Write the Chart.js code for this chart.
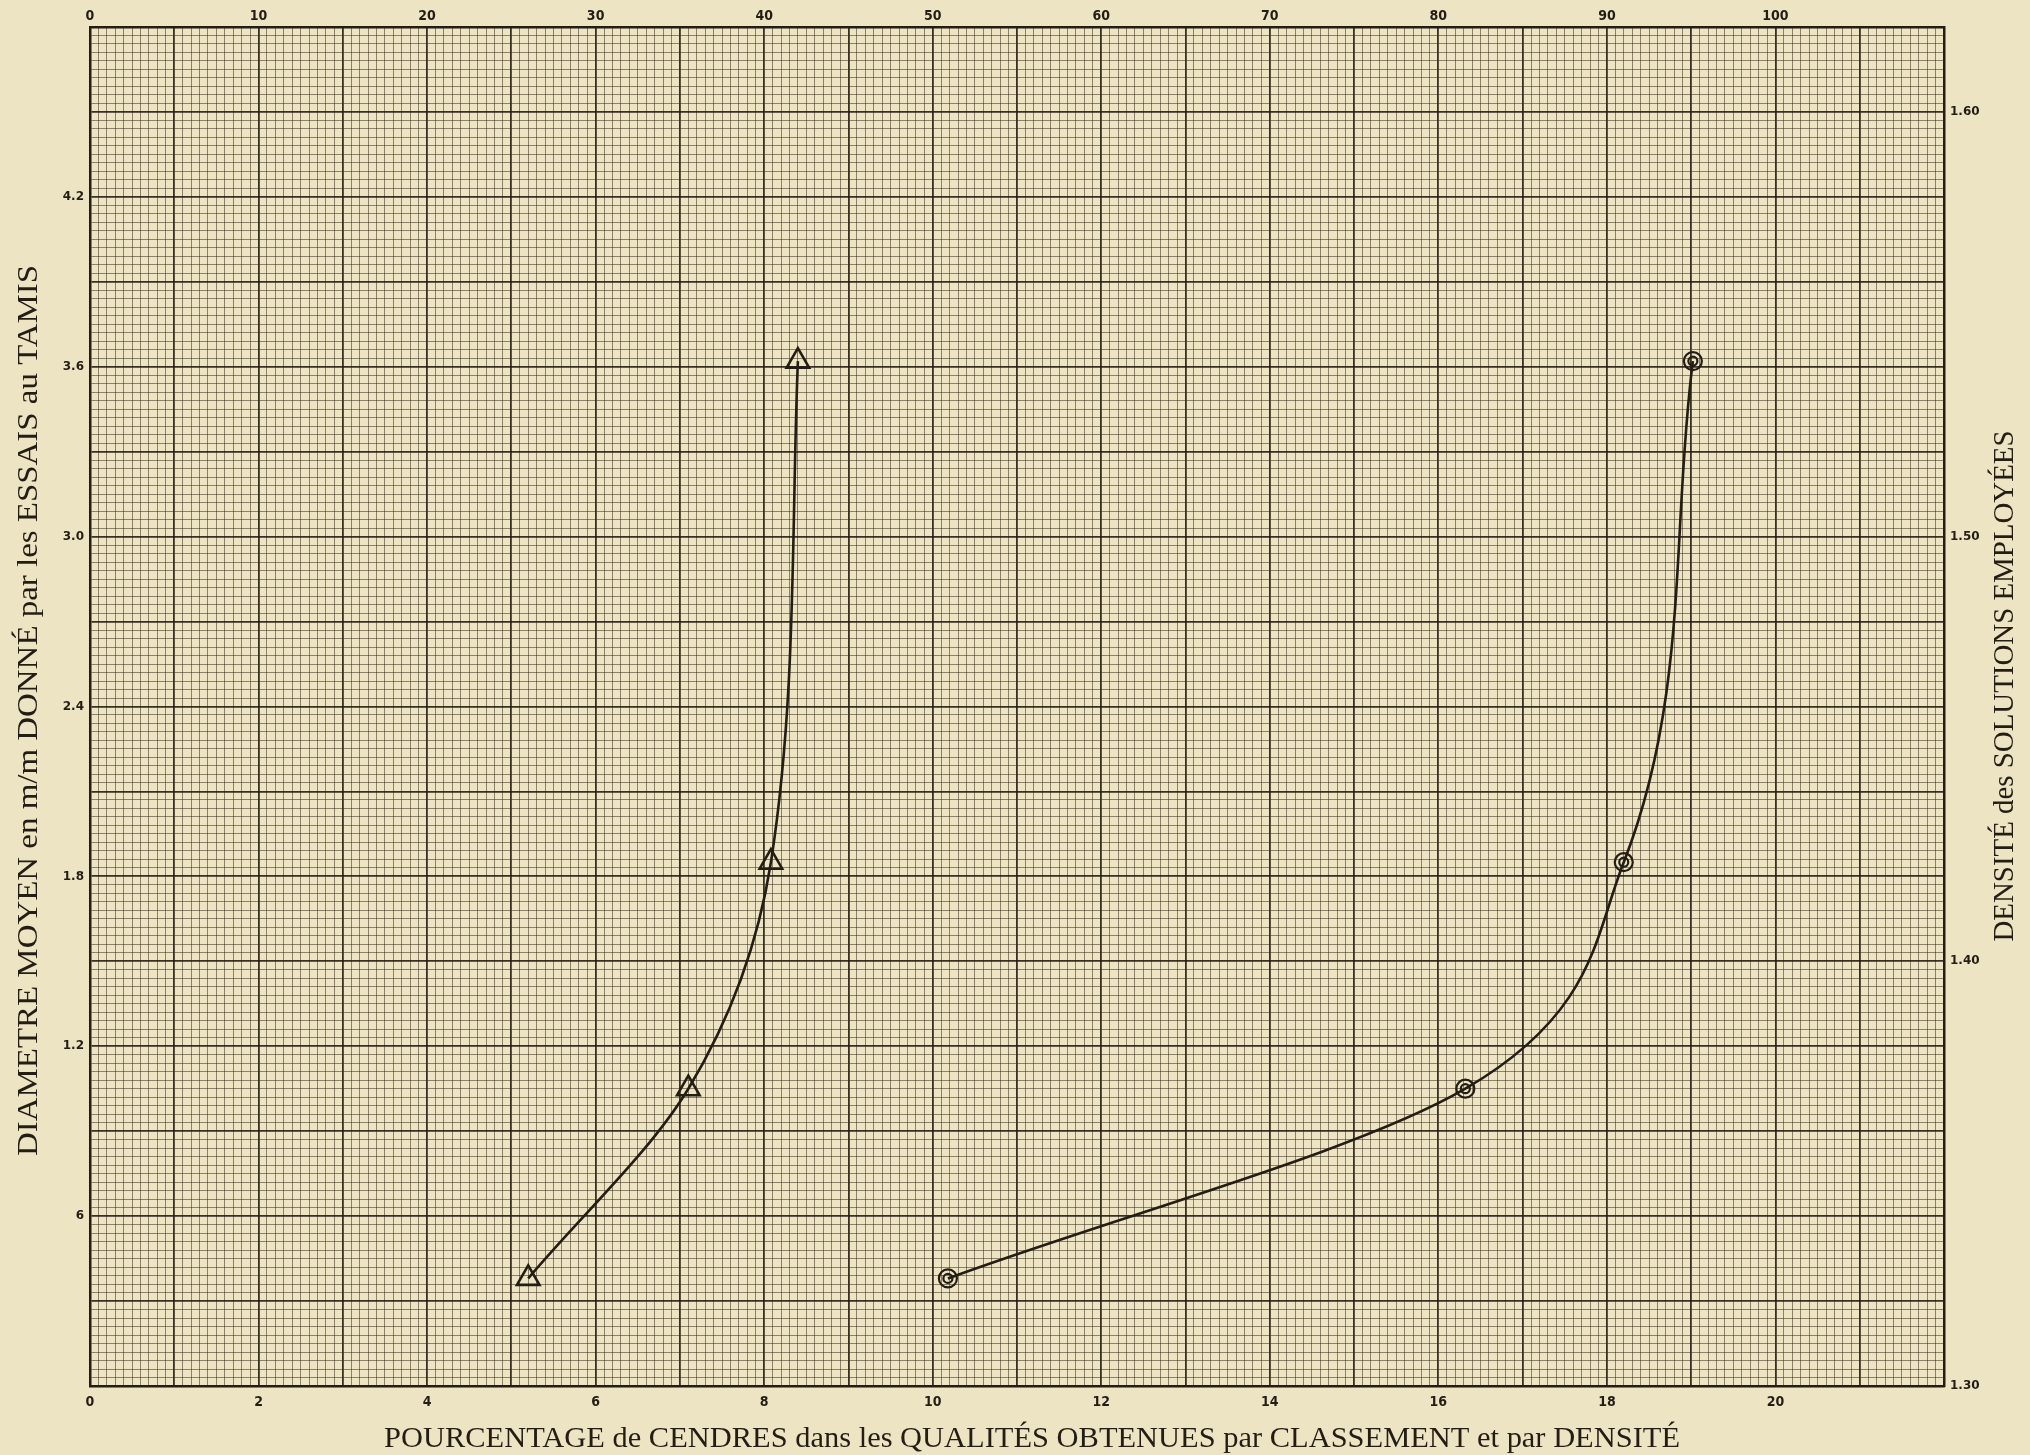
<!DOCTYPE html>
<html>
<head>
<meta charset="utf-8">
<title>Pourcentage de cendres</title>
<script src="https://cdn.jsdelivr.net/npm/chart.js@4.4.1/dist/chart.umd.min.js"></script>
<style>
    html, body { margin: 0; padding: 0; background: #ece3c3; overflow: hidden; }
    #wrap { width: 2030px; height: 1455px; position: relative; }
</style>
</head>
<body>
<div id="wrap"><canvas id="cendres_chart"></canvas></div>
<script>
"use strict";

// Ash % (bottom scale) and mean sieve diameter in mm (left scale)
var ashTriangles = [5.2, 7.1, 8.08, 8.4];
var diameterTriangles = [0.38, 1.05, 1.85, 3.62];
var ashCircles = [10.18, 16.32, 18.2, 19.02];
var diameterCircles = [0.38, 1.05, 1.85, 3.62];

// Tick labels of the four scales
var bottomTicks = [0, 2, 4, 6, 8, 10, 12, 14, 16, 18, 20];
var topTicks = [0, 10, 20, 30, 40, 50, 60, 70, 80, 90, 100];
var leftTicks = [0.6, 1.2, 1.8, 2.4, 3.0, 3.6, 4.2];
var leftTickLabels = ['6', '1.2', '1.8', '2.4', '3.0', '3.6', '4.2'];
var rightTicks = [1.30, 1.40, 1.50, 1.60];
var rightTickLabels = ['1.30', '1.40', '1.50', '1.60'];

var xTitle = 'POURCENTAGE de CENDRES dans les QUALITÉS OBTENUES par CLASSEMENT et par DENSITÉ';
var yTitle = 'DIAMETRE MOYEN en m/m DONNÉ par les ESSAIS au TAMIS';
var y2Title = 'DENSITÉ des SOLUTIONS EMPLOYÉES';

var CendresChart = function () {
    var paper = '#ede4c4';
    var ink = '#231d14';
    var fineLine = 'rgba(60, 48, 30, 0.55)';
    var mediumLine = 'rgba(35, 28, 18, 0.9)';
    var tickFont = { family: "'Liberation Sans Narrow', 'DejaVu Sans Condensed', sans-serif", size: 14, weight: 'bold' };
    var sideFont = { family: "'DejaVu Sans', sans-serif", size: 12, weight: 'bold' };

    function near(a, b) {
        return Math.abs(a - b) < 1e-6;
    }

    function toPoints(xs, ys) {
        return xs.map(function (x, i) { return { x: x, y: ys[i] }; });
    }

    // fixed margins so the plot area sits where it does on the sheet
    function fixSize(size) {
        return function (scale) {
            if (scale.isHorizontal()) {
                scale.height = size;
            } else {
                scale.width = size;
            }
        };
    }

    var paperPlugin = {
        id: 'paper',
        beforeDraw: function (chart) {
            var ctx = chart.ctx;
            ctx.save();
            ctx.fillStyle = paper;
            ctx.fillRect(0, 0, chart.width, chart.height);
            ctx.restore();
        }
    };

    // condensed serif titles, the right one reads bottom to top like the left one
    var titlesPlugin = {
        id: 'titles',
        afterDraw: function (chart) {
            var ctx = chart.ctx;
            var area = chart.chartArea;
            function drawTitle(text, cx, cy, rotation, targetWidth, size) {
                ctx.save();
                ctx.font = size + "px 'Liberation Serif', 'DejaVu Serif', serif";
                ctx.fillStyle = ink;
                ctx.textAlign = 'center';
                ctx.textBaseline = 'middle';
                var w = ctx.measureText(text).width;
                ctx.translate(cx, cy);
                ctx.rotate(rotation);
                ctx.scale(targetWidth / w, 1);
                ctx.fillText(text, 0, 0);
                ctx.restore();
            }
            drawTitle(xTitle, 1032, 1439, 0, 1296, 29);
            drawTitle(yTitle, 29, (area.top + area.bottom) / 2 + 4, -Math.PI / 2, 891, 29);
            drawTitle(y2Title, 2005, 686, -Math.PI / 2, 511, 30);
        }
    };

    var initChart = function () {
        var element = document.getElementById('cendres_chart');
        if (!element) {
            return;
        }

        // curves are smoothed along the diameter axis (x as a function of y)
        var config = {
            type: 'scatter',
            data: {
                datasets: [{
                    label: 'Classement',
                    data: toPoints(ashTriangles, diameterTriangles),
                    indexAxis: 'y',
                    showLine: true,
                    cubicInterpolationMode: 'monotone',
                    borderColor: ink,
                    borderWidth: 2.6,
                    pointStyle: 'triangle',
                    pointRadius: 13,
                    pointBorderWidth: 2.6,
                    pointBorderColor: ink,
                    pointBackgroundColor: 'rgba(0,0,0,0)',
                    xAxisID: 'x',
                    yAxisID: 'y'
                }, {
                    label: 'Densité',
                    data: toPoints(ashCircles, diameterCircles),
                    indexAxis: 'y',
                    showLine: true,
                    cubicInterpolationMode: 'monotone',
                    borderColor: ink,
                    borderWidth: 2.6,
                    pointStyle: 'circle',
                    pointRadius: 9,
                    pointBorderWidth: 2.2,
                    pointBorderColor: ink,
                    pointBackgroundColor: 'rgba(0,0,0,0)',
                    xAxisID: 'x',
                    yAxisID: 'y'
                }, {
                    label: 'Densité (centre)',
                    data: toPoints(ashCircles, diameterCircles),
                    showLine: false,
                    pointStyle: 'circle',
                    pointRadius: 4.5,
                    pointBorderWidth: 2.2,
                    pointBorderColor: ink,
                    pointBackgroundColor: 'rgba(0,0,0,0)',
                    xAxisID: 'x',
                    yAxisID: 'y'
                }]
            },
            options: {
                responsive: true,
                maintainAspectRatio: false,
                animation: false,
                devicePixelRatio: 1,
                layout: { padding: 0 },
                scales: {
                    x: {
                        type: 'linear',
                        position: 'bottom',
                        min: 0,
                        max: 22,
                        afterBuildTicks: function (scale) {
                            var ticks = [];
                            for (var i = 0; i <= 220; i++) {
                                ticks.push({ value: i / 10 });
                            }
                            scale.ticks = ticks;
                        },
                        afterFit: fixSize(69),
                        grid: {
                            drawTicks: false,
                            color: function (c) {
                                return near(c.tick.value, Math.round(c.tick.value)) ? mediumLine : fineLine;
                            },
                            lineWidth: function (c) {
                                return near(c.tick.value, Math.round(c.tick.value)) ? 1.8 : 1;
                            }
                        },
                        border: { display: true, color: ink, width: 2.5 },
                        ticks: {
                            autoSkip: false,
                            maxRotation: 0,
                            minRotation: 0,
                            padding: 8,
                            color: ink,
                            font: tickFont,
                            callback: function (value) {
                                var v = Math.round(value * 10) / 10;
                                return bottomTicks.indexOf(v) >= 0 ? String(v) : '';
                            }
                        }
                    },
                    x2: {
                        type: 'linear',
                        position: 'top',
                        min: 0,
                        max: 110,
                        afterBuildTicks: function (scale) {
                            scale.ticks = topTicks.map(function (v) { return { value: v }; });
                        },
                        afterFit: fixSize(27),
                        grid: { drawOnChartArea: false, drawTicks: false },
                        border: { display: true, color: ink, width: 2.5 },
                        ticks: {
                            autoSkip: false,
                            maxRotation: 0,
                            minRotation: 0,
                            padding: 2,
                            color: ink,
                            font: tickFont
                        }
                    },
                    y: {
                        type: 'linear',
                        position: 'left',
                        min: 0,
                        max: 4.8,
                        afterBuildTicks: function (scale) {
                            var ticks = [];
                            for (var i = 0; i <= 160; i++) {
                                ticks.push({ value: i * 3 / 100 });
                            }
                            scale.ticks = ticks;
                        },
                        afterFit: fixSize(90),
                        grid: {
                            drawTicks: false,
                            color: function (c) {
                                var k = c.tick.value * 10 / 3;
                                return near(k, Math.round(k)) ? mediumLine : fineLine;
                            },
                            lineWidth: function (c) {
                                var k = c.tick.value * 10 / 3;
                                return near(k, Math.round(k)) ? 1.8 : 1;
                            }
                        },
                        border: { display: true, color: ink, width: 2.5 },
                        ticks: {
                            autoSkip: false,
                            padding: 6,
                            color: ink,
                            font: sideFont,
                            callback: function (value) {
                                for (var i = 0; i < leftTicks.length; i++) {
                                    if (near(leftTicks[i], value)) {
                                        return leftTickLabels[i];
                                    }
                                }
                                return '';
                            }
                        }
                    },
                    y2: {
                        type: 'linear',
                        position: 'right',
                        min: 1.30,
                        max: 1.62,
                        afterBuildTicks: function (scale) {
                            scale.ticks = rightTicks.map(function (v) { return { value: v }; });
                        },
                        afterFit: fixSize(86),
                        grid: { drawOnChartArea: false, drawTicks: false },
                        border: { display: true, color: ink, width: 2.5 },
                        ticks: {
                            autoSkip: false,
                            padding: 6,
                            color: ink,
                            font: sideFont,
                            callback: function (value) {
                                for (var i = 0; i < rightTicks.length; i++) {
                                    if (near(rightTicks[i], value)) {
                                        return rightTickLabels[i];
                                    }
                                }
                                return '';
                            }
                        }
                    }
                },
                plugins: {
                    legend: { display: false },
                    tooltip: { enabled: false }
                }
            },
            plugins: [paperPlugin, titlesPlugin]
        };

        var ctx = element.getContext('2d');
        element.chartInstance = new Chart(ctx, config);
    };

    return {
        init: function () {
            initChart();
        }
    };
}();

document.addEventListener('DOMContentLoaded', function () {
    CendresChart.init();
});
</script>
</body>
</html>
